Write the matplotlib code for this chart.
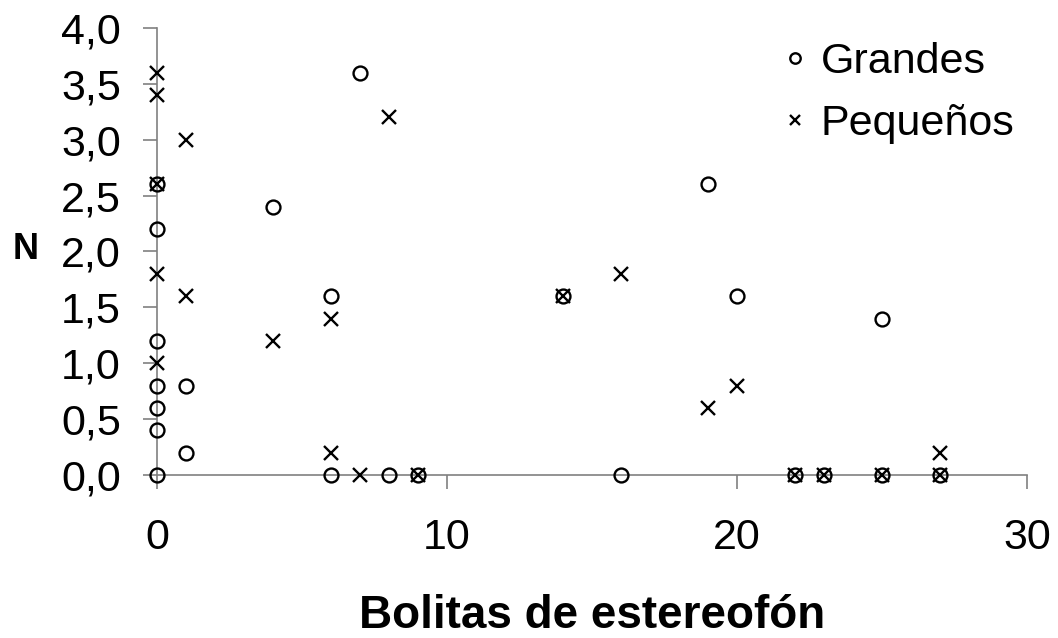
import matplotlib.pyplot as plt
from matplotlib.ticker import FuncFormatter

plt.rcParams['font.family'] = ['Liberation Sans', 'DejaVu Sans']

# Grandes (circulos)
grandes_x = [0, 0, 0, 0, 0, 0, 0, 1, 1, 4, 6, 6, 7, 8, 9, 14, 16, 19, 20, 22, 23, 25, 25, 27]
grandes_y = [2.6, 2.2, 1.2, 0.8, 0.6, 0.4, 0.0, 0.8, 0.2, 2.4, 1.6, 0.0, 3.6, 0.0, 0.0,
             1.6, 0.0, 2.6, 1.6, 0.0, 0.0, 1.4, 0.0, 0.0]

# Pequeños (cruces)
pequenos_x = [0, 0, 0, 0, 0, 1, 1, 4, 6, 6, 7, 8, 9, 14, 16, 19, 20, 22, 23, 25, 27, 27]
pequenos_y = [3.6, 3.4, 2.6, 1.8, 1.0, 3.0, 1.6, 1.2, 1.4, 0.2, 0.0, 3.2, 0.0, 1.6,
              1.8, 0.6, 0.8, 0.0, 0.0, 0.0, 0.2, 0.0]

fig = plt.figure(figsize=(10.58, 6.38), dpi=100)
ax = fig.add_axes([0.1484, 0.2555, 0.8223, 0.7006])

ax.plot(grandes_x, grandes_y, linestyle='none', marker='o', markersize=10,
        markerfacecolor='none', markeredgecolor='black', markeredgewidth=1.7,
        label='Grandes', clip_on=False, zorder=3)
ax.plot(pequenos_x, pequenos_y, linestyle='none', marker='x', markersize=10,
        color='black', markeredgewidth=1.7, label='Pequeños', clip_on=False, zorder=3)

ax.set_xlim(0, 30)
ax.set_ylim(0, 4)
ax.set_xticks([0, 10, 20, 30])
ax.set_yticks([i * 0.5 for i in range(9)])
ax.yaxis.set_major_formatter(FuncFormatter(lambda v, p: f'{v:.1f}'.replace('.', ',')))

for s in ['top', 'right']:
    ax.spines[s].set_visible(False)
for s in ['left', 'bottom']:
    ax.spines[s].set_color('#808080')
    ax.spines[s].set_linewidth(1.2)

ax.tick_params(axis='y', direction='out', length=10, width=1.2, color='#808080',
               labelsize=31, pad=16)
ax.tick_params(axis='x', direction='out', length=10, width=1.2, color='#808080',
               labelsize=31, pad=21)

fig.text(0.024, 1 - 259 / 638, 'N', fontsize=26, fontweight='bold', ha='center', va='baseline')
fig.text(0.1484 + 0.8223 / 2, 1 - 628 / 638, 'Bolitas de estereofón', fontsize=33,
         fontweight='bold', ha='center', va='baseline')

ax.legend(loc='upper left', bbox_to_anchor=(0.7104, 0.968), bbox_transform=fig.transFigure,
          frameon=False, fontsize=31, handletextpad=0.1, labelspacing=0.51,
          handlelength=1.0, borderpad=0, markerscale=0.75)

fig.savefig('out.png', dpi=100)
